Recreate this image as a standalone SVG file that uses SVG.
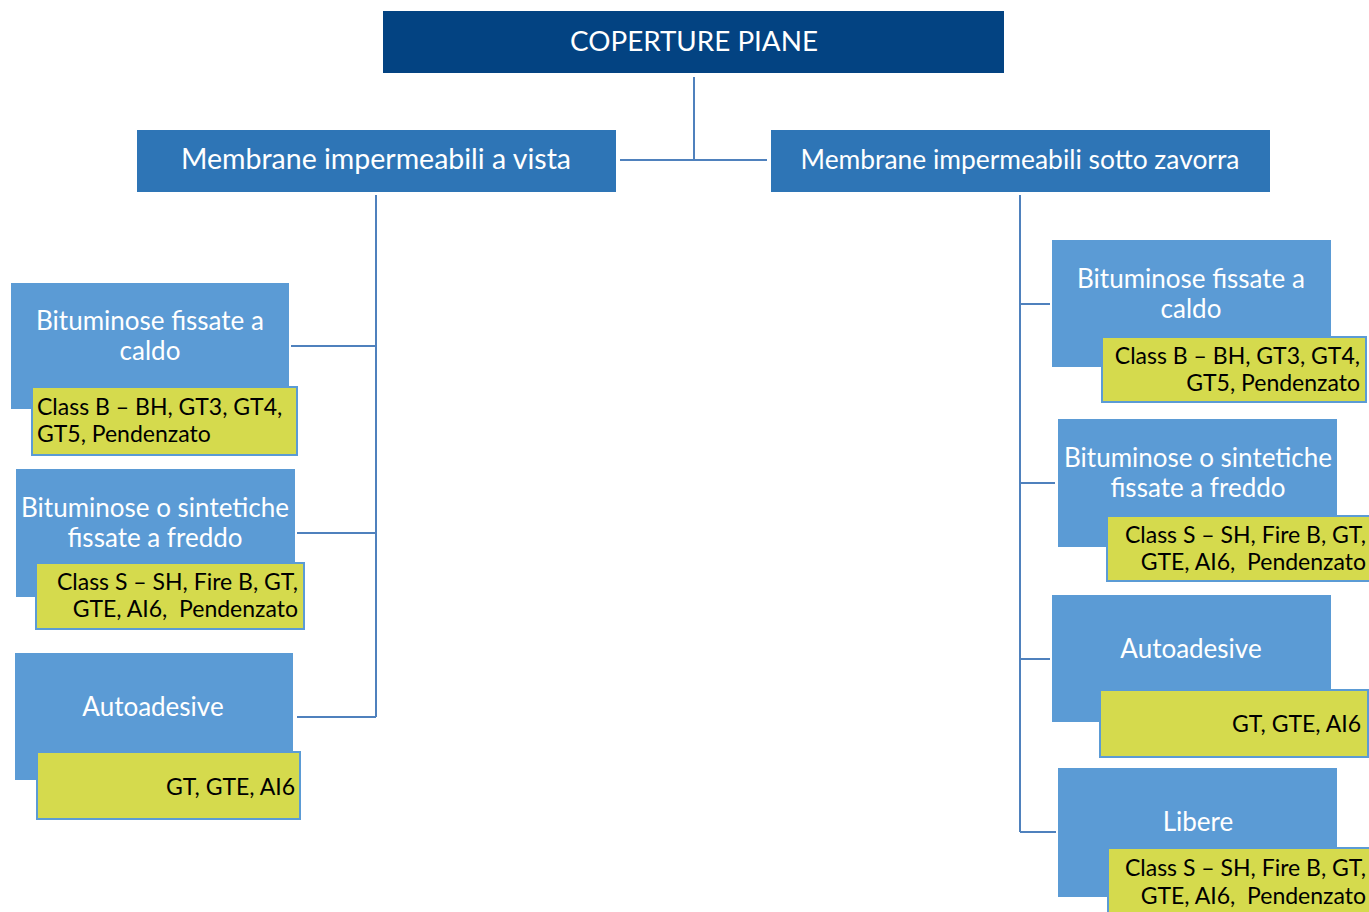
<svg xmlns="http://www.w3.org/2000/svg" width="1369" height="912" viewBox="0 0 1369 912">
<style>
.top{fill:#034382}
.l2{fill:#2E75B6}
.l3{fill:#5B9BD5}
.yl{fill:#D5DA4D;stroke:#5B9BD5;stroke-width:2}
.w{fill:#fff;font-family:Lato,"Open Sans",sans-serif}
.b{fill:#000;font-family:Lato,"Open Sans",sans-serif;font-size:23px;white-space:pre}
.c{fill:none;stroke:#4F81BD;stroke-width:2}
</style>
<rect width="1369" height="912" fill="#fff"/>
<g id="connectors">
<path class="c" d="M694 77V160M620 160H767"/>
<path class="c" d="M376 195V717M291 346H376M297 533H376M297 717H376"/>
<path class="c" d="M1020 195V832M1020 304H1050M1020 483H1055M1020 659H1050M1020 832H1056"/>
</g>
<g id="root">
<rect class="top" x="383" y="11" width="621" height="62"/>
<text class="w" x="694" y="51" font-size="27.8" text-anchor="middle">COPERTURE PIANE</text>
</g>
<g id="vista">
<rect class="l2" x="137" y="130" width="479" height="62"/>
<text class="w" x="376" y="169" font-size="28.5" text-anchor="middle">Membrane impermeabili a vista</text>
</g>
<g id="zavorra">
<rect class="l2" x="771" y="130" width="499" height="62"/>
<text class="w" x="1020" y="169" font-size="26.4" text-anchor="middle">Membrane impermeabili sotto zavorra</text>
</g>
<g id="l1">
<rect class="l3" x="11" y="283" width="278" height="126"/>
<text class="w" font-size="26" text-anchor="middle"><tspan x="150" y="330">Bituminose fissate a</tspan><tspan x="150" y="360">caldo</tspan></text>
<rect class="yl" x="32" y="387" width="265" height="68"/>
<text class="b"><tspan x="37" y="415">Class B – BH, GT3, GT4,</tspan><tspan x="37" y="442">GT5, Pendenzato</tspan></text>
</g>
<g id="l2">
<rect class="l3" x="16" y="469" width="279" height="128"/>
<text class="w" font-size="26" text-anchor="middle"><tspan x="155" y="517">Bituminose o sintetiche</tspan><tspan x="155" y="547">fissate a freddo</tspan></text>
<rect class="yl" x="36" y="563" width="268" height="66"/>
<text class="b" text-anchor="end"><tspan x="298" y="590">Class S – SH, Fire B, GT,</tspan><tspan x="298" y="617">GTE, AI6,  Pendenzato</tspan></text>
</g>
<g id="l3">
<rect class="l3" x="15" y="653" width="278" height="127"/>
<text class="w" x="153" y="716" font-size="26" text-anchor="middle">Autoadesive</text>
<rect class="yl" x="37" y="752" width="263" height="67"/>
<text class="b" x="295" y="795" text-anchor="end">GT, GTE, AI6</text>
</g>
<g id="r1">
<rect class="l3" x="1052" y="240" width="279" height="127"/>
<text class="w" font-size="26" text-anchor="middle"><tspan x="1191" y="288">Bituminose fissate a</tspan><tspan x="1191" y="318">caldo</tspan></text>
<rect class="yl" x="1102" y="337" width="264" height="65"/>
<text class="b" text-anchor="end"><tspan x="1360" y="364">Class B – BH, GT3, GT4,</tspan><tspan x="1360" y="391">GT5, Pendenzato</tspan></text>
</g>
<g id="r2">
<rect class="l3" x="1058" y="419" width="279" height="128"/>
<text class="w" font-size="26" text-anchor="middle"><tspan x="1198" y="467">Bituminose o sintetiche</tspan><tspan x="1198" y="497">fissate a freddo</tspan></text>
<rect class="yl" x="1107" y="516" width="264" height="65"/>
<text class="b" text-anchor="end"><tspan x="1366" y="543">Class S – SH, Fire B, GT,</tspan><tspan x="1366" y="570">GTE, AI6,  Pendenzato</tspan></text>
</g>
<g id="r3">
<rect class="l3" x="1052" y="595" width="279" height="127"/>
<text class="w" x="1191" y="658" font-size="26" text-anchor="middle">Autoadesive</text>
<rect class="yl" x="1100" y="690" width="268" height="67"/>
<text class="b" x="1361" y="732" text-anchor="end">GT, GTE, AI6</text>
</g>
<g id="r4">
<rect class="l3" x="1058" y="768" width="279" height="129"/>
<text class="w" x="1198" y="831" font-size="26" text-anchor="middle">Libere</text>
<rect class="yl" x="1108" y="848" width="264" height="68"/>
<text class="b" text-anchor="end"><tspan x="1366" y="876">Class S – SH, Fire B, GT,</tspan><tspan x="1366" y="904">GTE, AI6,  Pendenzato</tspan></text>
</g>
</svg>
